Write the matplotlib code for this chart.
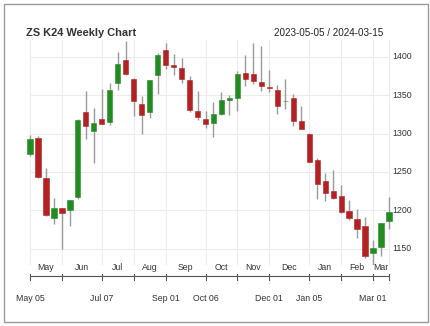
import matplotlib
matplotlib.use("Agg")
import matplotlib.pyplot as plt
import matplotlib.transforms as mtransforms
from matplotlib.patches import Rectangle
import numpy as np

plt.rcParams['font.family'] = ['Liberation Sans', 'DejaVu Sans']

title = "ZS K24 Weekly Chart"
date_range = "2023-05-05 / 2024-03-15"

opens = [1274, 1294.3, 1242.2, 1190.4, 1203, 1200, 1217.4, 1328.3, 1303.5, 1319.6,
         1315.2, 1366.5, 1396.5, 1371.7, 1338.3, 1327.8, 1376.5, 1408.7, 1390, 1386.1,
         1370.4, 1329.6, 1319.1, 1313.9, 1326.1, 1343.5, 1346.5, 1379.6, 1378.3, 1367.4,
         1360.9, 1357.4, 1342.2, 1346.5, 1316.5, 1300, 1266.1, 1237.8, 1225.7, 1218.3,
         1199.6, 1188.7, 1179.1, 1144.8, 1152.6, 1185.7]
highs = [1298, 1296.5, 1255.2, 1215.7, 1203.5, 1213.5, 1318.5, 1355.2, 1333.5, 1357.8,
         1366, 1407, 1420.4, 1372, 1349.6, 1370, 1405.2, 1418.7, 1404.3, 1398.3,
         1375.2, 1355.7, 1329.1, 1340.9, 1354.3, 1350.9, 1381.7, 1402.2, 1418.7, 1413.9,
         1382.6, 1363, 1370.9, 1351.3, 1336.1, 1300.5, 1268.3, 1249.1, 1252.2, 1233,
         1213, 1202.2, 1191.3, 1160.9, 1183.5, 1217.4]
lows = [1271, 1242.2, 1192.2, 1182.6, 1150, 1179, 1214, 1292.6, 1261.7, 1312,
        1310.9, 1356.5, 1376, 1322.6, 1299.1, 1320.9, 1352.2, 1384.3, 1376.5, 1366,
        1328.3, 1318.3, 1307.8, 1295.7, 1324.8, 1324.8, 1329.1, 1361.7, 1365.2, 1356.1,
        1354.3, 1326.1, 1332.2, 1309.6, 1306, 1263, 1214.8, 1212.2, 1215, 1197,
        1187.8, 1164.3, 1138.3, 1129.1, 1140.4, 1175.2]
closes = [1292.6, 1243.5, 1193.5, 1203, 1196.1, 1213, 1318.3, 1310, 1313.9, 1312.2,
          1357.4, 1391.3, 1377.4, 1342.6, 1324.8, 1369.6, 1402.2, 1389.6, 1387.4, 1371.3,
          1330.4, 1321.7, 1313, 1325.2, 1343.5, 1346.1, 1378.3, 1371.3, 1368.3, 1361.7,
          1359.6, 1336.5, 1342.6, 1316.5, 1306.5, 1263.5, 1234.8, 1222.6, 1215.7, 1197.8,
          1189.6, 1175.7, 1140.9, 1150.9, 1183.5, 1197.4]

month_bounds = [0, 4, 9, 13, 17, 22, 26, 30, 35, 39, 43, 45]
month_names = ["May", "Jun", "Jul", "Aug", "Sep", "Oct", "Nov", "Dec", "Jan", "Feb", "Mar"]
major_idx = [0, 9, 17, 22, 30, 35, 43]
major_labels = ["May 05", "Jul 07", "Sep 01", "Oct 06", "Dec 01", "Jan 05", "Mar 01"]
y_ticks = [1150, 1200, 1250, 1300, 1350, 1400]

W, H = 430, 326
fig = plt.figure(figsize=(W / 100, H / 100), dpi=100)
fig.patch.set_facecolor("white")

def fy(px):
    return 1 - px / H

# axes: index -0.5 at px 26, 45.5 at px 393; y 1422 at px 40.1, 1128 at px 265.4
ax = fig.add_axes([26 / W, fy(265.4), (393 - 26) / W, (265.4 - 40.1) / H])
ax.set_xlim(-0.5, 45.5)
ax.set_ylim(1128, 1422)
ax.axis("off")

n = len(opens)
x = np.arange(n)
o = np.array(opens); c = np.array(closes); hi = np.array(highs); lo = np.array(lows)

grid_c = "#ececec"
for b in month_bounds:
    ax.axvline(b, color=grid_c, lw=0.8, zorder=0)
ax.hlines(y_ticks, 0, n - 1, color=grid_c, lw=0.8, zorder=0)

green = "#228B22"
red = "#B22222"
cols = [green if cc >= oo else red for oo, cc in zip(o, c)]
ax.vlines(x, lo, hi, color="#9a9a9a", lw=1.0, zorder=1)
body_bottom = np.minimum(o, c)
body_h = np.maximum(np.abs(c - o), 0.8)
ax.bar(x, body_h, bottom=body_bottom, width=0.66, color=cols,
       edgecolor=cols, linewidth=0.4, zorder=2)

txt_c = "#333333"
for v in y_ticks:
    ax.text(45.4, v, str(v), ha="left", va="center", fontsize=6.3, color=txt_c)

trans = mtransforms.blended_transform_factory(ax.transData, fig.transFigure)
for i, name in enumerate(month_names):
    mid = (month_bounds[i] + month_bounds[i + 1]) / 2
    ax.text(mid, fy(267.5), name, ha="center", va="center", fontsize=6.3,
            color=txt_c, transform=trans, clip_on=False)

ax.plot([0, n - 1], [fy(276), fy(276)], color="#555555", lw=0.8,
        transform=trans, clip_on=False)
for b in month_bounds:
    ax.plot([b, b], [fy(273.5), fy(279.5)], color="#555555", lw=0.8,
            transform=trans, clip_on=False)
for i, lab in zip(major_idx, major_labels):
    ax.text(i, fy(298.5), lab, ha="center", va="center", fontsize=6.3,
            color=txt_c, transform=trans, clip_on=False)

fig.text(26.5 / W, fy(33.5), title, ha="left", va="center", fontsize=7.9,
         fontweight="bold", color="#333333")
fig.text(383 / W, fy(33.5), date_range, ha="right", va="center", fontsize=7.1,
         color="#222222")

fig.patches.append(Rectangle((3.5 / W, fy(322)), (427.5 - 3.5) / W, (322 - 4) / H,
                             transform=fig.transFigure, fill=False,
                             edgecolor="#9a9a9a", lw=1.0))

fig.savefig("out.png", dpi=100, facecolor="white")
